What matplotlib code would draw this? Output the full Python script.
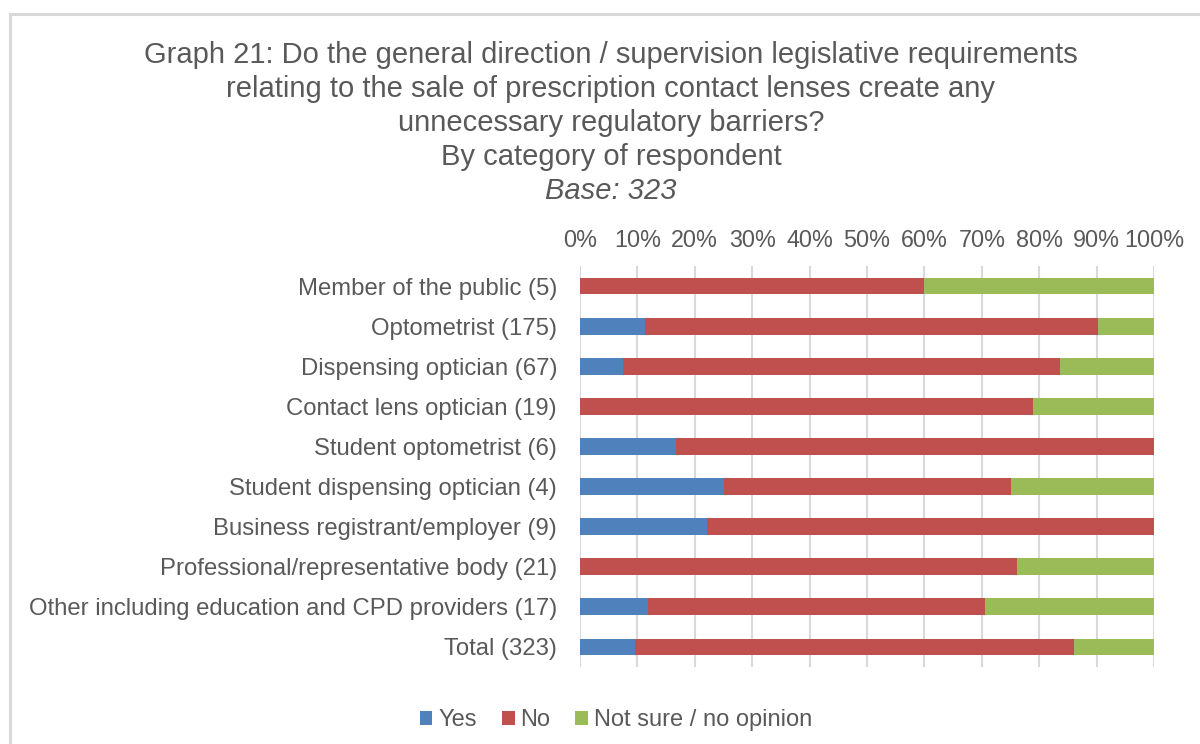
import matplotlib
matplotlib.use("Agg")
import matplotlib.pyplot as plt
from matplotlib.lines import Line2D
from matplotlib.patches import Patch
from matplotlib.ticker import FixedLocator

plt.rcParams['font.family'] = ['Liberation Sans', 'DejaVu Sans']

categories = [
    "Member of the public (5)",
    "Optometrist (175)",
    "Dispensing optician (67)",
    "Contact lens optician (19)",
    "Student optometrist (6)",
    "Student dispensing optician (4)",
    "Business registrant/employer (9)",
    "Professional/representative body (21)",
    "Other including education and CPD providers (17)",
    "Total (323)",
]
yes_pct = [0.0, 11.4, 7.5, 0.0, 16.7, 25.0, 22.2, 0.0, 11.8, 9.6]
no_pct = [60.0, 78.9, 76.1, 78.9, 83.3, 50.0, 77.8, 76.2, 58.8, 76.5]
unsure_pct = [40.0, 9.7, 16.4, 21.1, 0.0, 25.0, 0.0, 23.8, 29.4, 13.9]
series_names = ["Yes", "No", "Not sure / no opinion"]
tick_values = list(range(0, 101, 10))
tick_labels = [f"{v}%" for v in tick_values]

colors = ["#4F81BD", "#C0504D", "#9BBB59"]
text_color = "#595959"

fig = plt.figure(figsize=(12, 7.44), dpi=100)
ax = fig.add_axes([580 / 1200, 77 / 744, 574 / 1200, 401 / 744])

ypos = list(range(len(categories)))
left = [0.0] * len(categories)
for vals, name, col in zip([yes_pct, no_pct, unsure_pct], series_names, colors):
    ax.barh(ypos, vals, left=left, height=0.42, color=col, label=name, zorder=3)
    left = [a + b for a, b in zip(left, vals)]

ax.set_xlim(0, 100)
ax.set_ylim(len(categories) - 0.5, -0.5)
ax.xaxis.set_major_locator(FixedLocator(tick_values))
ax.set_xticklabels(tick_labels)
ax.xaxis.tick_top()
ax.tick_params(axis='x', length=0, pad=10, labelsize=16.8, labelcolor=text_color)
ax.set_yticks(ypos)
ax.set_yticklabels(categories)
ax.tick_params(axis='y', length=0, pad=16.5, labelsize=17.2, labelcolor=text_color)
ax.grid(axis='x', color="#D9D9D9", linewidth=1.5, zorder=0)
for s in ax.spines.values():
    s.set_visible(False)

title_lines = [
    "Graph 21: Do the general direction / supervision legislative requirements",
    "relating to the sale of prescription contact lenses create any",
    "unnecessary regulatory barriers?",
    "By category of respondent",
]
y0 = 55
for i, line in enumerate(title_lines):
    fig.text(611 / 1200, 1 - (y0 + 34 * i) / 744, line, ha='center', va='center',
             fontsize=21, color=text_color)
fig.text(611 / 1200, 1 - (y0 + 34 * 4) / 744, "Base: 323", ha='center', va='center',
         fontsize=21, color=text_color, style='italic')

handles = [Patch(facecolor=c, edgecolor='none') for c in colors]
fig.legend(handles, series_names, loc='center', bbox_to_anchor=(616 / 1200, 1 - 720 / 744),
           ncol=3, frameon=False, fontsize=17, handlelength=0.55, handleheight=0.55,
           handletextpad=0.25, columnspacing=1.05, labelcolor=text_color)

# outer chart frame
fig.add_artist(Line2D([10 / 1200, 10 / 1200], [0, 1 - 14 / 744], color="#D9D9D9", linewidth=2.2))
fig.add_artist(Line2D([10 / 1200, 1], [1 - 14 / 744, 1 - 14 / 744], color="#D9D9D9", linewidth=2.2))

fig.savefig("out.png", dpi=100, facecolor="white")
